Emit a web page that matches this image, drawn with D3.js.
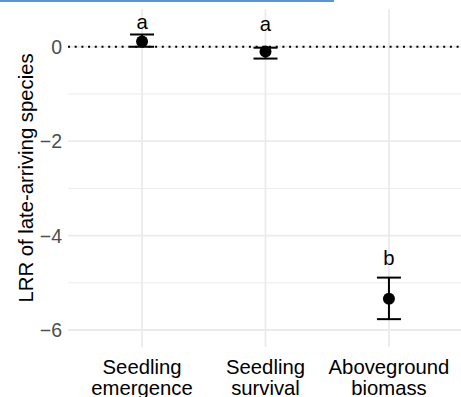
<!DOCTYPE html>
<html>
<head>
<meta charset="utf-8">
<script src="https://cdn.jsdelivr.net/npm/d3@7"></script>
<style>
  body { margin: 0; background: #fff; }
  svg { display: block; font-family: "Liberation Sans", Arial, sans-serif; }
</style>
</head>
<body>
<svg id="chart" width="461" height="397"></svg>
<script>
// data
var categories = [["Seedling", "emergence"], ["Seedling", "survival"], ["Aboveground", "biomass"]];
var means = [0.11, -0.10, -5.34];
var lower = [0.0, -0.25, -5.77];
var upper = [0.26, -0.02, -4.89];
var letters = ["a", "a", "b"];
var letterY = [0.37, 0.34, -4.63];
var yTicks = [0, -2, -4, -6];
var yMinor = [-1, -3, -5];

var svg = d3.select("#chart");
var pLeft = 68, pRight = 463, pTop = 9, pBottom = 347;
var fs = 20.3;

// blue strip at the top edge
svg.append("rect").attr("x", 0).attr("y", 0).attr("width", 334).attr("height", 2).attr("fill", "#5b93d3");

var x = d3.scaleBand().domain(d3.range(categories.length)).range([pLeft, pRight]).paddingOuter(0.1).paddingInner(0);
// centers at the band middle
var xc = function(i) { return x(i) + x.bandwidth() / 2; };
var y = d3.scaleLinear().domain([-6.36, 0.8]).range([pBottom, pTop]);

var grid = svg.append("g");
grid.selectAll(".minor").data(yMinor).enter().append("line")
  .attr("x1", pLeft).attr("x2", pRight).attr("y1", d => y(d)).attr("y2", d => y(d))
  .attr("stroke", "#ebebeb").attr("stroke-width", 1);
grid.selectAll(".major").data(yTicks).enter().append("line")
  .attr("x1", pLeft).attr("x2", pRight).attr("y1", d => y(d)).attr("y2", d => y(d))
  .attr("stroke", "#ebebeb").attr("stroke-width", 1.8);
grid.selectAll(".vmajor").data(d3.range(categories.length)).enter().append("line")
  .attr("x1", d => xc(d)).attr("x2", d => xc(d)).attr("y1", pTop).attr("y2", pBottom)
  .attr("stroke", "#ebebeb").attr("stroke-width", 1.8);

// zero reference
svg.append("line").attr("x1", pLeft).attr("x2", pRight).attr("y1", y(0)).attr("y2", y(0))
  .attr("stroke", "#000").attr("stroke-width", 2).attr("stroke-dasharray", "2,4.7");

// y tick labels
svg.selectAll(".ytl").data(yTicks).enter().append("text")
  .attr("x", 62).attr("y", d => y(d)).attr("dy", "0.36em")
  .attr("text-anchor", "end").attr("font-size", 19.5).attr("fill", "#4d4d4d")
  .text(d => d3.format("")(d).replace("-", "\u2212"));

// y title
svg.append("text").attr("transform", "translate(32.5," + ((pTop + pBottom) / 2) + ") rotate(-90)")
  .attr("text-anchor", "middle").attr("font-size", fs).attr("fill", "#000")
  .text("LRR of late-arriving species");

// x tick labels
var xl = svg.selectAll(".xtl").data(categories).enter().append("text")
  .attr("text-anchor", "middle").attr("font-size", fs).attr("fill", "#000");
xl.each(function(d, i) {
  var t = d3.select(this);
  d.forEach(function(line, j) {
    t.append("tspan").attr("x", xc(i)).attr("y", 373.5 + j * 21).text(line);
  });
});

// error bars
var cap = 12;
var eb = svg.append("g").selectAll("g").data(means).enter().append("g");
eb.append("line").attr("x1", (d, i) => xc(i)).attr("x2", (d, i) => xc(i))
  .attr("y1", (d, i) => y(lower[i])).attr("y2", (d, i) => y(upper[i]))
  .attr("stroke", "#000").attr("stroke-width", 2);
eb.append("line").attr("x1", (d, i) => xc(i) - cap).attr("x2", (d, i) => xc(i) + cap)
  .attr("y1", (d, i) => y(lower[i])).attr("y2", (d, i) => y(lower[i]))
  .attr("stroke", "#000").attr("stroke-width", 2);
eb.append("line").attr("x1", (d, i) => xc(i) - cap).attr("x2", (d, i) => xc(i) + cap)
  .attr("y1", (d, i) => y(upper[i])).attr("y2", (d, i) => y(upper[i]))
  .attr("stroke", "#000").attr("stroke-width", 2);
eb.append("circle").attr("cx", (d, i) => xc(i)).attr("cy", d => y(d)).attr("r", 6).attr("fill", "#000");

// significance letters
svg.selectAll(".let").data(letters).enter().append("text")
  .attr("x", (d, i) => xc(i)).attr("y", (d, i) => y(letterY[i]))
  .attr("text-anchor", "middle").attr("font-size", fs).attr("fill", "#000")
  .text(d => d);
</script>
</body>
</html>
